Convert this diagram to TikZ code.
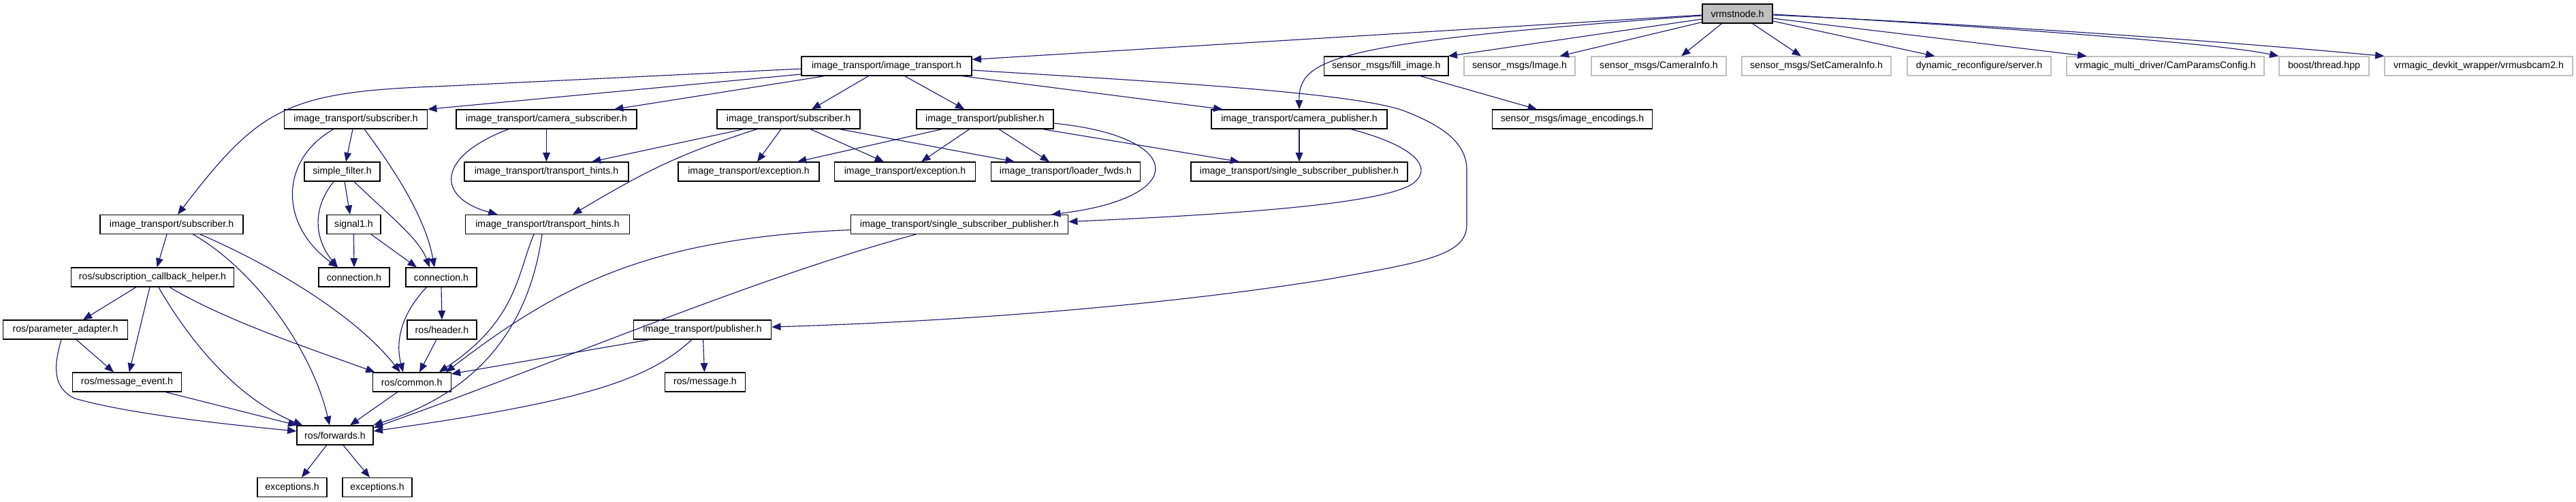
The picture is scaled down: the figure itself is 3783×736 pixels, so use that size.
\documentclass[tikz,border=0pt]{standalone}
\usepackage{fontspec}
\setmainfont{Liberation Sans}
\usetikzlibrary{arrows.meta,calc}
\definecolor{edgec}{HTML}{191970}
\definecolor{vgray}{HTML}{BFBFBF}
\definecolor{lgray}{HTML}{BFBFBF}
\tikzset{
  box/.style={draw=black, line width=0.9pt, rectangle, inner sep=0pt,
    minimum height=21pt, fill=white, text=black},
  extbox/.style={box, draw=lgray},
  bw/.style={minimum width=#1*0.75pt},
  dep/.style={draw=edgec, line width=0.85pt,
    -{Triangle[length=10pt,width=8pt]}},
}
\begin{document}
\begin{tikzpicture}[x=0.75pt,y=-0.75pt,font=\fontsize{10.6pt}{12pt}\selectfont]
\path[use as bounding box, fill=white] (0,0) rectangle (3783,736);

% row 1
\node[box,bw=103,fill=vgray] (V) at (2551.5,20) {vrmstnode.h};
% row 2
\node[box,bw=250] (IT) at (1302,97) {image\_transport/image\_transport.h};
\node[box,bw=182.5] (fill) at (2035.75,97) {sensor\_msgs/fill\_image.h};
\node[extbox,bw=163] (img) at (2231.5,97) {sensor\_msgs/Image.h};
\node[extbox,bw=198] (caminfo) at (2436,97) {sensor\_msgs/CameraInfo.h};
\node[extbox,bw=219] (setcam) at (2667.5,97) {sensor\_msgs/SetCameraInfo.h};
\node[extbox,bw=211] (dynrec) at (2906.5,97) {dynamic\_reconfigure/server.h};
\node[extbox,bw=290] (camparams) at (3180,97) {vrmagic\_multi\_driver/CamParamsConfig.h};
\node[extbox,bw=132] (boost) at (3413,97) {boost/thread.hpp};
\node[extbox,bw=276] (vrmusb) at (3640,97) {vrmagic\_devkit\_wrapper/vrmusbcam2.h};
% row 3
\node[box,bw=210] (subA) at (522.5,175) {image\_transport/subscriber.h};
\node[box,bw=265] (camsub) at (802.5,175) {image\_transport/camera\_subscriber.h};
\node[box,bw=210] (subC) at (1158,175) {image\_transport/subscriber.h};
\node[box,bw=201] (pub1) at (1446.4,175) {image\_transport/publisher.h};
\node[box,bw=258] (campub) at (1908,175) {image\_transport/camera\_publisher.h};
\node[box,bw=234.5] (enc) at (2309,175) {sensor\_msgs/image\_encodings.h};
% row 4
\node[box,bw=111] (sf) at (502.5,252) {simple\_filter.h};
\node[box,bw=241] (hints1) at (802.5,252) {image\_transport/transport\_hints.h};
\node[box,bw=207] (exc1) at (1099.5,252) {image\_transport/exception.h};
\node[box,bw=207] (exc2) at (1329,252) {image\_transport/exception.h};
\node[box,bw=219] (loader) at (1565,252) {image\_transport/loader\_fwds.h};
\node[box,bw=318] (ssp2) at (1908,252) {image\_transport/single\_subscriber\_publisher.h};
% row 5
\node[box,bw=210] (subB) at (252,329.5) {image\_transport/subscriber.h};
\node[box,bw=79] (sig) at (519.5,329.5) {signal1.h};
\node[box,bw=241] (hints2) at (804,329.5) {image\_transport/transport\_hints.h};
\node[box,bw=319] (ssp1) at (1409,329.5) {image\_transport/single\_subscriber\_publisher.h};
% row 6
\node[box,bw=239] (sch) at (224,407) {ros/subscription\_callback\_helper.h};
\node[box,bw=104] (conn1) at (520,407) {connection.h};
\node[box,bw=104] (conn2) at (648,407) {connection.h};
% row 7
\node[box,bw=183] (pa) at (96,484) {ros/parameter\_adapter.h};
\node[box,bw=102] (hdr) at (649,484) {ros/header.h};
\node[box,bw=202] (pub2) at (1031.6,484) {image\_transport/publisher.h};
% row 8
\node[box,bw=160] (me) at (186.5,561) {ros/message\_event.h};
\node[box,bw=115] (common) at (604.7,561) {ros/common.h};
\node[box,bw=118] (msg) at (1035.5,561) {ros/message.h};
% row 9
\node[box,bw=112] (fwd) at (492,639) {ros/forwards.h};
% row 10
\node[box,bw=102] (ex1) at (429,715.5) {exceptions.h};
\node[box,bw=102] (ex2) at (554,715.5) {exceptions.h};

% ---- edges from vrmstnode.h
\draw[dep] ($(V.west)+(0,2)$) -- ($(IT.north east)+(0,5)$);
\draw[dep] ($(V.west)+(0,3)$) .. controls (1960,62) and (1907,85) .. (campub.north);
\draw[dep] ($(V.west)+(0,8)$) -- ($(fill.north east)+(-1,0)$);
\draw[dep] ($(V.south west)+(0,-2)$) -- ($(img.north east)+(-23,0)$);
\draw[dep] ($(V.south)+(-23,0)$) -- ($(caminfo.north)+(33,0)$);
\draw[dep] ($(V.south)+(22,0)$) -- ($(setcam.north)+(-22.5,0)$);
\draw[dep] ($(V.east)+(0,11)$) -- ($(dynrec.north west)+(41,0)$);
\draw[dep] ($(V.east)+(0,7)$) -- ($(camparams.north west)+(30,0)$);
\draw[dep] ($(V.east)+(0,1)$) .. controls (2900,38) and (3250,62) .. (boost.north west);
\draw[dep] ($(V.east)+(0,2)$) .. controls (2900,36) and (3200,55) .. (vrmusb.north west);
\draw[dep] ($(fill.south)+(50,0)$) -- ($(enc.north)+(-52,0)$);

% ---- edges from image_transport.h
\draw[dep] ($(IT.west)+(0,4)$) -- (640,127) .. controls (420,135) and (380,160) .. ($(subB.north)+(9,0)$);
\draw[dep] ($(IT.west)+(0,12)$) -- (subA.north east);
\draw[dep] ($(IT.south west)+(35,0)$) -- ($(camsub.north)+(99.5,0)$);
\draw[dep] ($(IT.south)+(-26.5,0)$) -- ($(subC.north)+(34,0)$);
\draw[dep] ($(IT.south)+(26.5,0)$) -- ($(pub1.north)+(-30,0)$);
\draw[dep] ($(IT.south east)+(-15,0)$) -- ($(campub.north west)+(17,0)$);
\draw[dep] ($(IT.east)+(0,6)$) .. controls (1700,120) and (1980,135) .. (2060,162)
  .. controls (2120,185) and (2154,210) .. (2154,250) -- (2154,330)
  .. controls (2154,375) and (2090,385) .. (1950,410)
  .. controls (1700,450) and (1400,472) .. ($(pub2.east)+(0,-4)$);

% ---- subscriber.h (A)
\draw[dep] ($(subA.south)+(-4.5,0)$) -- ($(sf.north)+(5.5,0)$);
\draw[dep] ($(subA.south)+(-32.5,0)$) .. controls (410,235) and (410,330) .. ($(conn1.north)+(-24,0)$);
\draw[dep] ($(subA.south)+(12.5,0)$) .. controls (580,250) and (625,320) .. ($(conn2.north)+(-10,0)$);
% ---- simple_filter.h
\draw[dep] ($(sf.south)+(3.5,0)$) -- ($(sig.north)+(-5.5,0)$);
\draw[dep] ($(sf.south)+(-12.5,0)$) .. controls (455,310) and (465,355) .. ($(conn1.north)+(-24,0)$);
\draw[dep] ($(sf.south)+(17.5,0)$) .. controls (570,315) and (615,350) .. ($(conn2.north)+(-17,0)$);
% ---- signal1.h
\draw[dep] (sig.south) -- (conn1.north);
\draw[dep] ($(sig.south)+(25.5,0)$) -- ($(conn2.north)+(-36,0)$);
% ---- camera_subscriber.h
\draw[dep] (camsub.south) -- (hints1.north);
\draw[dep] ($(camsub.south)+(-55.5,0)$) .. controls (640,230) and (640,290) .. ($(hints2.north)+(-73.4,0)$);
% ---- subscriber.h (C)
\draw[dep] ($(subC.south)+(-66,0)$) -- ($(hints1.north)+(66.5,0)$);
\draw[dep] ($(subC.south)+(-46,0)$) .. controls (1000,225) and (950,250) .. ($(hints2.north)+(37,0)$);
\draw[dep] ($(subC.south)+(-11,0)$) -- ($(exc1.north)+(12.5,0)$);
\draw[dep] ($(subC.south)+(32,0)$) -- ($(exc2.north)+(-31,0)$);
\draw[dep] ($(subC.south)+(74.7,0)$) -- ($(loader.north)+(-75,0)$);
% ---- publisher.h (upper)
\draw[dep] ($(pub1.south)+(-62.7,0)$) -- ($(exc1.north)+(71.5,0)$);
\draw[dep] ($(pub1.south)+(-22.7,0)$) -- ($(exc2.north)+(24,0)$);
\draw[dep] ($(pub1.south)+(20.6,0)$) -- ($(loader.north)+(-24,0)$);
\draw[dep] ($(pub1.south)+(84.2,0)$) -- ($(ssp2.north)+(-88,0)$);
\draw[dep] ($(pub1.east)+(0,6)$) .. controls (1740,200) and (1750,290) .. ($(ssp1.north east)+(-25,0)$);
% ---- camera_publisher.h
\draw[dep] (campub.south) -- (ssp2.north);
\draw[dep] ($(campub.south)+(75.7,0)$) .. controls (2080,215) and (2100,245) .. (2080,265)
  .. controls (2050,300) and (1800,315) .. ($(ssp1.east)+(0,-4)$);
% ---- transport_hints.h (lower)
\draw[dep] ($(hints2.south)+(-20,0)$) .. controls (760,400) and (760,470) .. ($(common.north)+(40,0)$);
\draw[dep] ($(hints2.south)+(-8,0)$) .. controls (780,460) and (720,570) .. ($(fwd.east)+(0,-15)$);
% ---- single_subscriber_publisher.h (lower)
\draw[dep] ($(ssp1.west)+(0,8)$) .. controls (950,350) and (820,420) .. ($(common.north east)+(-8,0)$);
\draw[dep] ($(ssp1.south)+(-64,0)$) .. controls (1100,410) and (800,540) .. ($(fwd.east)+(0,-11)$);
% ---- publisher.h (lower)
\draw[dep] ($(pub2.south west)+(24,0)$) -- ($(common.east)+(0,-12)$);
\draw[dep] ($(pub2.south)+(1,0)$) -- ($(msg.north)+(-1,0)$);
\draw[dep] ($(pub2.south)+(-15.6,0)$) .. controls (950,560) and (850,590) .. ($(fwd.east)+(0,-6)$);
% ---- connection.h (right)
\draw[dep] (conn2.south) -- (hdr.north);
\draw[dep] ($(conn2.south)+(-21.5,0)$) .. controls (590,460) and (580,500) .. ($(common.north)+(-12.7,0)$);
% ---- ros/header.h
\draw[dep] ($(hdr.south)+(-8,0)$) -- ($(common.north)+(11.3,0)$);
% ---- subscriber.h (B)
\draw[dep] ($(subB.south)+(-7,0)$) -- ($(sch.north)+(6.6,0)$);
\draw[dep] ($(subB.south)+(42,0)$) .. controls (390,385) and (520,460) .. ($(common.north)+(-17,0)$);
\draw[dep] ($(subB.south)+(31.7,0)$) .. controls (380,400) and (460,520) .. ($(fwd.north)+(-8,0)$);
% ---- ros/subscription_callback_helper.h
\draw[dep] ($(sch.south)+(-24,0)$) -- ($(pa.north)+(26,0)$);
\draw[dep] ($(sch.south)+(-4,0)$) -- ($(me.north)+(3.3,0)$);
\draw[dep] ($(sch.south)+(8.7,0)$) .. controls (290,520) and (360,590) .. ($(fwd.north west)+(9,0)$);
\draw[dep] ($(sch.south)+(25,0)$) .. controls (330,470) and (450,510) .. ($(common.north west)+(4,0)$);
% ---- ros/parameter_adapter.h
\draw[dep] ($(pa.south)+(16,0)$) -- ($(me.north)+(-19.5,0)$);
\draw[dep] ($(pa.south)+(-6,0)$) .. controls (78,540) and (78,570) .. (110,585)
  .. controls (180,605) and (300,620) .. ($(fwd.west)+(0,-6)$);
% ---- ros/message_event.h
\draw[dep] ($(me.south)+(56.5,0)$) -- ($(fwd.north west)+(1,0)$);
% ---- ros/common.h
\draw[dep] ($(common.south)+(-21,0)$) -- ($(fwd.north)+(22,0)$);
% ---- ros/forwards.h
\draw[dep] ($(fwd.south)+(-12.4,0)$) -- ($(ex1.north)+(14,0)$);
\draw[dep] ($(fwd.south)+(12,0)$) -- ($(ex2.north)+(-11,0)$);
\end{tikzpicture}
\end{document}
